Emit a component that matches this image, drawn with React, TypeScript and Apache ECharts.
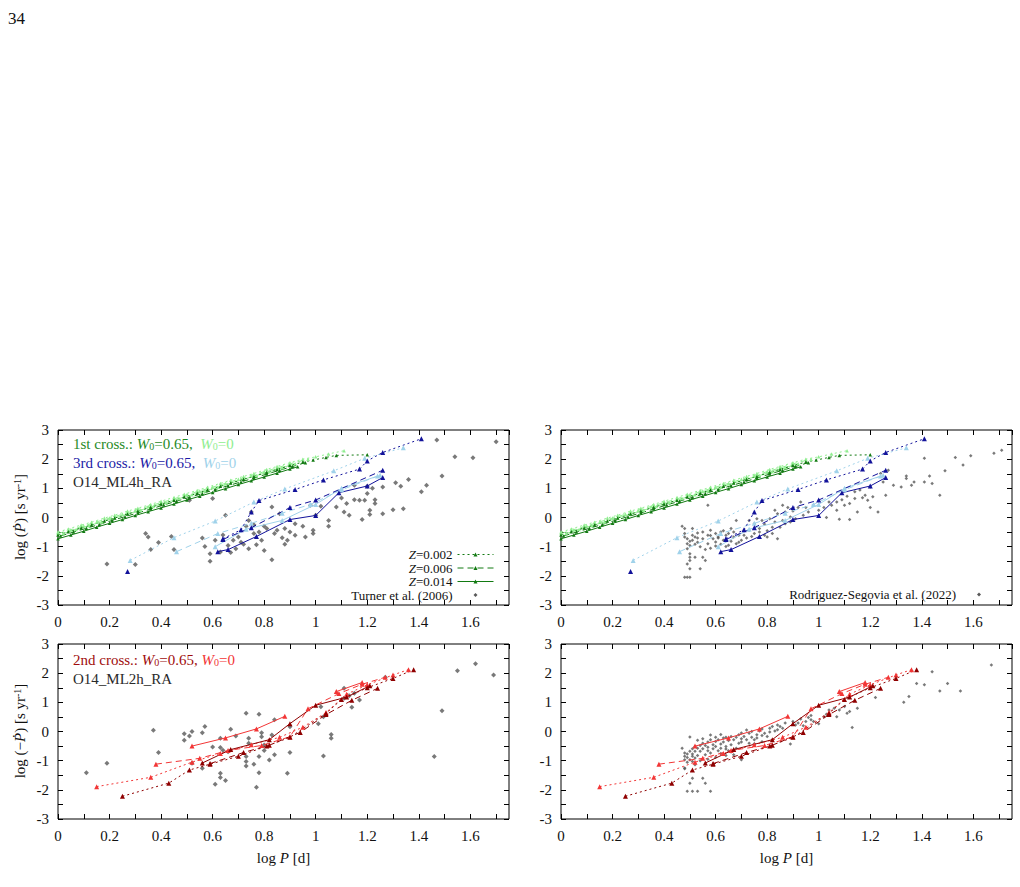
import React, { useEffect, useRef } from "react";
import * as echarts from "echarts";

const SERIF = '"Liberation Serif","Times New Roman","DejaVu Serif",serif';

const DARK_GREEN = "#127a12";
const LIGHT_GREEN = "#90ee90";
const DARK_BLUE = "#12129a";
const LIGHT_BLUE = "#a0d2ea";
const DARK_RED = "#8f0000";
const RED = "#f23636";
const GREY = "#585858";

const DOTTED = [2, 3];
const DASHED = [6, 4];

// ---- 1st crossing, W0 = 0.65 ----
const G065_Z002 = [[0,-0.6],[0.04,-0.49],[0.09,-0.36],[0.13,-0.26],[0.18,-0.12],[0.22,-0.02],[0.27,0.12],[0.31,0.22],[0.36,0.35],[0.4,0.46],[0.45,0.59],[0.49,0.7],[0.54,0.83],[0.58,0.94],[0.63,1.07],[0.67,1.18],[0.72,1.31],[0.76,1.41],[0.81,1.55],[0.85,1.65],[0.9,1.78],[0.95,1.9],[0.99,1.97],[1.04,2.06],[1.08,2.13],[1.2,2.15]];
const G065_Z006 = [[0.01,-0.63],[0.06,-0.5],[0.11,-0.37],[0.16,-0.24],[0.21,-0.1],[0.26,0.03],[0.31,0.16],[0.36,0.29],[0.41,0.43],[0.46,0.56],[0.51,0.69],[0.56,0.82],[0.61,0.96],[0.66,1.09],[0.71,1.22],[0.76,1.35],[0.81,1.49],[0.86,1.62],[0.91,1.75],[0.96,1.88]];
const G065_Z014 = [[0,-0.73],[0.05,-0.6],[0.1,-0.47],[0.15,-0.33],[0.2,-0.2],[0.25,-0.07],[0.3,0.07],[0.35,0.2],[0.4,0.33],[0.45,0.46],[0.5,0.6],[0.55,0.73],[0.6,0.86],[0.65,0.99],[0.7,1.13],[0.75,1.26],[0.8,1.39],[0.85,1.52],[0.9,1.66],[0.93,1.74]];
// ---- 1st crossing, W0 = 0 ----
const G0_Z002 = [[0,-0.5],[0.04,-0.39],[0.09,-0.26],[0.13,-0.16],[0.18,-0.02],[0.22,0.08],[0.27,0.22],[0.31,0.32],[0.36,0.45],[0.4,0.56],[0.45,0.69],[0.49,0.8],[0.54,0.93],[0.58,1.04],[0.63,1.17],[0.67,1.28],[0.72,1.41],[0.76,1.51],[0.81,1.65],[0.85,1.75],[0.9,1.88],[0.95,2.0],[1.0,2.08],[1.05,2.18],[1.11,2.29]];
const G0_Z006 = [[0,-0.55],[0.05,-0.42],[0.1,-0.29],[0.15,-0.15],[0.2,-0.02],[0.25,0.11],[0.3,0.25],[0.35,0.38],[0.4,0.51],[0.45,0.64],[0.5,0.78],[0.55,0.91],[0.6,1.04],[0.65,1.17],[0.7,1.31],[0.75,1.44],[0.8,1.57],[0.85,1.7],[0.9,1.84],[0.97,2.0]];
const G0_Z014 = [[0.02,-0.55],[0.07,-0.41],[0.12,-0.28],[0.17,-0.15],[0.22,-0.02],[0.27,0.12],[0.32,0.25],[0.37,0.38],[0.42,0.51],[0.47,0.65],[0.52,0.78],[0.57,0.91],[0.62,1.04],[0.67,1.18],[0.72,1.31],[0.77,1.44],[0.82,1.57],[0.87,1.71],[0.92,1.84]];

// ---- 3rd crossing, W0 = 0.65 ----
const B065_Z002_A = [[0.27,-1.85]];
const B065_Z002 = [[0.64,-0.73],[0.71,-0.42],[0.75,0.19],[0.78,0.58],[0.92,0.96],[1.03,1.29],[1.17,1.66],[1.2,1.94],[1.26,2.23],[1.41,2.7]];
const B065_Z006 = [[0.64,-0.75],[0.75,-0.35],[0.9,0.34],[1.0,0.6],[1.26,1.62]];
const B065_Z014 = [[0.62,-1.17],[0.66,-1.1],[0.77,-0.65],[0.9,-0.07],[1.0,0.07],[1.09,0.85],[1.2,1.08],[1.26,1.37]];
// ---- 3rd crossing, W0 = 0 ----
const B0_Z002 = [[0.28,-1.47],[0.45,-0.69],[0.61,-0.12],[0.76,0.53],[0.88,0.98],[1.07,1.6],[1.19,2.03],[1.34,2.39]];
const B0_Z006 = [[0.46,-1.17],[0.62,-0.55],[0.75,-0.2],[0.87,0.15],[0.98,0.45],[1.1,0.95],[1.25,1.45]];
const B0_Z014 = [[0.61,-1.0],[0.73,-0.4],[0.87,-0.1],[1.0,0.45],[1.1,1.0],[1.24,1.42]];

// ---- 2nd crossing, W0 = 0.65 ----
const R065_Z002 = [[0.25,-2.22],[0.43,-1.77],[0.51,-1.32],[0.59,-1.12],[0.7,-0.85],[0.81,-0.5],[0.9,-0.2],[1.04,0.62],[1.1,1.1],[1.2,1.5],[1.3,1.82],[1.38,2.12]];
const R065_Z006 = [[0.59,-1.1],[0.72,-0.72],[0.82,-0.47],[0.94,-0.03],[1.04,0.58],[1.14,1.07],[1.24,1.48]];
const R065_Z014 = [[0.56,-1.08],[0.67,-0.62],[0.82,-0.28],[0.9,0.27],[1.0,0.9],[1.12,1.18],[1.21,1.57]];
// ---- 2nd crossing, W0 = 0 ----
const R0_Z002 = [[0.15,-1.89],[0.36,-1.57],[0.52,-1.05],[0.63,-0.75],[0.75,-0.45],[0.86,-0.2],[0.95,0.15],[1.04,0.65],[1.12,1.28],[1.2,1.6],[1.3,1.94],[1.36,2.12]];
const R0_Z006 = [[0.38,-1.12],[0.55,-0.92],[0.66,-0.65],[0.79,-0.48],[0.9,-0.18],[0.97,0.78],[1.09,1.3],[1.18,1.62],[1.27,1.86]];
const R0_Z014_A = [[0.52,-0.5],[0.65,-0.22],[0.77,0.09],[0.88,0.52]];
const R0_Z014_B = [[1.08,1.37],[1.18,1.68]];

// ---- observed period changes ----
const TURNER_POS = [[0.19,-1.59],[0.3,-1.61],[0.34,-0.55],[0.35,-0.67],[0.36,-1.1],[0.39,-0.86],[0.44,-0.65],[0.45,-1.1],[0.51,0.59],[0.56,-0.7],[0.57,-0.99],[0.59,-1.24],[0.59,-1.5],[0.6,0.65],[0.61,-0.78],[0.63,-1.18],[0.64,-0.6],[0.65,0.08],[0.66,-0.96],[0.67,-1.2],[0.68,-0.78],[0.69,-1.07],[0.7,-0.67],[0.71,-0.85],[0.72,-0.92],[0.73,-0.3],[0.74,-1.07],[0.74,-0.1],[0.75,0.19],[0.76,-0.55],[0.76,-0.25],[0.77,-0.93],[0.78,-0.5],[0.79,-0.78],[0.8,-1.13],[0.8,-0.3],[0.81,-0.38],[0.83,0.36],[0.83,-1.45],[0.84,-0.55],[0.85,-0.44],[0.86,0.13],[0.87,-0.69],[0.88,-0.38],[0.88,-0.92],[0.89,-0.78],[0.9,-0.5],[0.92,-0.61],[0.92,-0.21],[0.95,-0.3],[0.96,-0.67],[0.98,0.42],[0.99,-0.44],[0.99,-0.55],[1.0,0.08],[1.02,0.39],[1.05,-0.1],[1.05,-0.3],[1.08,0.36],[1.1,0.67],[1.11,0.19],[1.12,0.48],[1.13,0.08],[1.15,1.11],[1.15,0.61],[1.17,0.59],[1.18,-0.07],[1.19,0.59],[1.2,0.82],[1.2,1.07],[1.21,0.25],[1.21,0.1],[1.22,1.0],[1.23,0.61],[1.23,0.48],[1.26,0.13],[1.26,1.05],[1.3,0.27],[1.31,1.19],[1.33,1.07],[1.34,0.3],[1.36,1.3],[1.41,0.88],[1.43,1.11],[1.47,2.66],[1.49,1.42],[1.54,2.08],[1.61,2.05],[1.7,2.6]];
const TURNER_NEG = [[0.11,-1.41],[0.19,-1.09],[0.37,0.04],[0.39,-0.72],[0.49,-0.08],[0.49,-0.3],[0.51,-0.15],[0.52,0.0],[0.52,-1.09],[0.56,-0.04],[0.56,-1.26],[0.57,0.17],[0.6,-0.53],[0.61,-1.81],[0.63,-0.23],[0.63,-0.55],[0.63,-1.43],[0.63,-1.58],[0.64,-0.64],[0.65,-1.68],[0.66,-0.69],[0.67,0.08],[0.69,-0.15],[0.73,-1.18],[0.73,0.63],[0.73,-0.86],[0.73,-1.03],[0.74,-0.23],[0.74,-0.4],[0.76,-1.12],[0.77,-1.91],[0.78,-0.86],[0.78,-1.41],[0.78,0.59],[0.79,-0.04],[0.79,-0.18],[0.8,-0.46],[0.8,-0.65],[0.82,-0.98],[0.83,-0.12],[0.84,-0.8],[0.84,0.4],[0.89,-1.43],[0.9,0.16],[0.9,-0.72],[1.01,0.27],[1.02,0.85],[1.03,0.51],[1.03,-0.84],[1.06,-0.1],[1.06,-0.23],[1.11,1.48],[1.11,1.14],[1.13,1.23],[1.14,0.83],[1.15,1.31],[1.17,1.08],[1.27,1.86],[1.46,-0.86],[1.49,0.71],[1.55,2.08],[1.62,2.32],[1.69,1.94]];
const RS_POS = [[0.47,-0.3],[0.48,-0.38],[0.48,-0.55],[0.48,-0.67],[0.49,-0.73],[0.5,-0.81],[0.49,-0.9],[0.5,-0.96],[0.49,-1.07],[0.51,-0.78],[0.51,-0.61],[0.5,-1.24],[0.5,-1.36],[0.5,-1.47],[0.49,-1.59],[0.5,-1.76],[0.48,-2.05],[0.49,-2.05],[0.5,-2.05],[0.54,-1.76],[0.52,-1.36],[0.55,-1.36],[0.56,-1.47],[0.57,0.42],[0.52,-0.67],[0.51,-0.38],[0.53,-0.53],[0.55,-0.73],[0.55,-0.5],[0.57,-0.61],[0.57,-0.9],[0.58,-0.44],[0.59,-0.73],[0.6,-0.55],[0.6,-0.84],[0.61,-0.67],[0.62,-0.92],[0.62,-0.5],[0.63,-0.78],[0.64,-0.61],[0.64,-0.99],[0.65,-0.55],[0.66,-0.81],[0.66,-0.38],[0.67,-0.67],[0.68,-0.9],[0.68,-0.1],[0.69,-0.61],[0.7,-0.78],[0.71,-0.44],[0.71,-0.61],[0.73,-0.1],[0.73,-0.44],[0.75,-0.21],[0.75,-0.55],[0.76,-0.04],[0.77,-0.38],[0.78,-0.1],[0.79,-0.61],[0.79,-0.23],[0.8,-0.67],[0.81,-0.04],[0.82,-0.33],[0.83,0.25],[0.83,-0.15],[0.84,-0.73],[0.84,0.13],[0.85,-0.33],[0.86,0.42],[0.86,-0.1],[0.87,0.19],[0.87,-0.21],[0.88,0.34],[0.89,0.02],[0.89,-0.15],[0.9,0.22],[0.91,-0.04],[0.92,0.34],[0.93,0.53],[0.94,0.08],[0.95,0.34],[0.96,0.19],[0.98,0.42],[1.0,0.25],[1.02,0.34],[1.03,0.0],[1.04,0.53],[1.05,0.42],[1.07,0.25],[1.07,0.53],[1.08,-0.06],[1.09,0.61],[1.1,0.42],[1.11,0.73],[1.12,0.48],[1.12,-0.07],[1.14,0.88],[1.14,0.65],[1.15,0.19],[1.16,0.94],[1.17,0.68],[1.18,0.76],[1.19,0.59],[1.2,0.34],[1.2,1.05],[1.21,0.71],[1.23,0.19],[1.24,1.51],[1.25,1.22],[1.26,0.76],[1.27,1.62],[1.29,1.11],[1.32,1.05],[1.34,1.34],[1.34,1.42],[1.36,1.11],[1.37,1.22],[1.41,2.03],[1.41,1.22],[1.43,1.42],[1.44,1.17],[1.47,0.76],[1.49,1.6],[1.53,2.06],[1.56,1.8],[1.59,2.12],[1.68,2.2],[1.71,2.31],[0.53,-0.85],[0.54,-1.0],[0.56,-1.1],[0.58,-1.05],[0.6,-0.98],[0.63,-0.45],[0.65,-0.95],[0.67,-0.5],[0.69,-0.85],[0.72,-0.7],[0.74,-0.65],[0.77,-0.5],[0.8,-0.45],[0.82,-0.55],[0.58,-0.62],[0.61,-0.7],[0.52,-0.92],[0.53,-0.7]];
const RS_NEG = [[0.47,-0.57],[0.48,-0.74],[0.48,-0.85],[0.48,-0.97],[0.49,-1.05],[0.48,-1.25],[0.49,-0.89],[0.49,-0.77],[0.5,-0.19],[0.5,-0.97],[0.5,-0.68],[0.51,-0.85],[0.51,-0.59],[0.51,-1.03],[0.51,-0.77],[0.52,-0.51],[0.52,-0.91],[0.52,-0.68],[0.53,-0.57],[0.53,-0.82],[0.54,-0.48],[0.54,-0.68],[0.55,-0.4],[0.55,-0.59],[0.56,-0.8],[0.56,-0.48],[0.57,-0.66],[0.57,-0.36],[0.57,-0.54],[0.58,-0.28],[0.58,-0.74],[0.59,-0.45],[0.59,-0.59],[0.6,-0.34],[0.6,-0.51],[0.61,-0.66],[0.61,-0.28],[0.62,-0.43],[0.62,-0.57],[0.63,-0.22],[0.63,-0.36],[0.64,-0.51],[0.64,-0.2],[0.65,-0.66],[0.65,-0.31],[0.66,-0.45],[0.66,-0.17],[0.67,-0.28],[0.68,-0.57],[0.68,-0.2],[0.69,-0.4],[0.69,-0.11],[0.7,-0.25],[0.7,-0.97],[0.7,-0.36],[0.71,-0.17],[0.72,-0.28],[0.73,-0.06],[0.73,-0.4],[0.74,-0.2],[0.74,0.0],[0.75,-0.28],[0.76,-0.11],[0.76,-0.22],[0.77,0.02],[0.78,-0.14],[0.78,0.09],[0.79,-0.06],[0.8,-0.17],[0.81,0.11],[0.81,-0.02],[0.82,0.17],[0.83,0.02],[0.84,0.22],[0.84,0.06],[0.85,0.17],[0.86,0.11],[0.87,0.29],[0.89,-0.43],[0.9,0.34],[0.91,0.22],[0.92,0.29],[0.93,0.43],[0.94,0.2],[0.95,0.34],[0.96,0.48],[0.97,0.4],[0.97,0.55],[0.98,0.34],[1.0,0.27],[1.02,0.51],[1.03,0.59],[1.04,0.74],[1.06,0.8],[1.07,0.51],[1.08,0.74],[1.1,0.86],[1.11,0.63],[1.12,0.69],[1.13,0.14],[1.15,0.8],[1.22,1.17],[1.33,1.0],[1.35,1.2],[1.38,1.65],[1.41,1.6],[1.44,2.05],[1.47,1.39],[1.5,1.65],[1.55,1.39],[1.67,2.28],[0.49,-2.05],[0.51,-2.05],[0.53,-2.05],[0.58,-2.05],[0.5,-1.77],[0.51,-1.6],[0.55,-1.6],[0.56,-1.77],[0.48,-1.28],[0.52,-1.14],[0.67,-0.8],[0.64,-0.82],[0.53,-0.3],[0.55,-0.25],[0.58,-0.12],[0.6,-0.2],[0.62,-0.1],[0.64,-0.6],[0.66,-0.7],[0.7,-0.05],[0.72,0.05],[0.75,-0.42],[0.78,-0.35],[0.57,-0.95],[0.6,-0.88],[0.54,-1.0],[0.62,-0.75]];

const LEGEND_Z = ["Z=0.002", "Z=0.006", "Z=0.014"];
const TURNER_NAME = "Turner et al. (2006)";
const RS_NAME = "Rodriguez-Segovia et al. (2022)";

const axisFont = { fontFamily: SERIF, fontSize: 15, color: "#111" };

function xLabel(v: number) {
  const t = Math.round(v * 10);
  if (Math.abs(v * 10 - t) > 1e-6 || t % 2 !== 0) return "";
  return String(t / 10);
}
function yLabel(v: number) {
  const t = Math.round(v * 2);
  if (Math.abs(v * 2 - t) > 1e-6 || t % 2 !== 0) return "";
  return String(t / 2);
}

const GRIDS = [
  { left: 58, top: 430 },
  { left: 561, top: 430 },
  { left: 58, top: 644 },
  { left: 561, top: 644 },
];

function buildOption() {
  const grid = GRIDS.map((g) => ({
    left: g.left, top: g.top, width: 451, height: 175,
    show: true, borderColor: "#000", borderWidth: 1, backgroundColor: "transparent",
  }));
  const tick = { show: true, inside: true, length: 5, lineStyle: { color: "#000", width: 1 } };
  const noLine = { show: false, onZero: false };
  const xAxis: any[] = [];
  const yAxis: any[] = [];
  GRIDS.forEach((_, g) => {
    const isBottom = g >= 2;
    xAxis.push({
      gridIndex: g, type: "value", min: 0, max: 1.75, interval: 0.1, position: "bottom",
      axisLine: noLine, axisTick: tick, splitLine: { show: false },
      axisLabel: { ...axisFont, margin: 9, formatter: xLabel, showMaxLabel: false },
      name: isBottom ? "{n|log }{i|P}{n| [d]}" : "",
      nameLocation: "middle", nameGap: 31,
      nameTextStyle: {
        rich: {
          n: { fontFamily: SERIF, fontSize: 15, color: "#111" },
          i: { fontFamily: SERIF, fontSize: 15, fontStyle: "italic", color: "#111" },
        },
      },
    });
    xAxis.push({
      gridIndex: g, type: "value", min: 0, max: 1.75, interval: 0.1, position: "top",
      axisLine: noLine, axisTick: tick, splitLine: { show: false }, axisLabel: { show: false },
    });
    yAxis.push({
      gridIndex: g, type: "value", min: -3, max: 3, interval: 0.5, position: "left",
      axisLine: noLine, axisTick: tick, splitLine: { show: false },
      axisLabel: { ...axisFont, margin: 9, formatter: yLabel },
    });
    yAxis.push({
      gridIndex: g, type: "value", min: -3, max: 3, interval: 0.5, position: "right",
      axisLine: noLine, axisTick: tick, splitLine: { show: false }, axisLabel: { show: false },
    });
  });

  const track = (name: string, data: number[][], color: string, dash: any, g: number, size = 5) => ({
    name, type: "line", data, xAxisIndex: 2 * g, yAxisIndex: 2 * g,
    symbol: "triangle", symbolSize: size, showSymbol: true,
    lineStyle: { color, width: 1, type: dash }, itemStyle: { color },
    silent: true, z: 3,
  });
  const points = (name: string, data: number[][], size: number, g: number) => ({
    name, type: "scatter", data, xAxisIndex: 2 * g, yAxisIndex: 2 * g,
    symbol: "diamond", symbolSize: size, itemStyle: { color: GREY }, silent: true, z: 2,
  });

  const series: any[] = [];
  // observations
  series.push(points("turner-pos", TURNER_POS, 5, 0));
  series.push(points("rs-pos", RS_POS, 3.5, 1));
  series.push(points("turner-neg", TURNER_NEG, 5, 2));
  series.push(points("rs-neg", RS_NEG, 3.5, 3));

  for (const g of [0, 1]) {
    series.push(track("g0_z002", G0_Z002, LIGHT_GREEN, DOTTED, g, 3.5));
    series.push(track("g0_z006", G0_Z006, LIGHT_GREEN, DASHED, g, 3.5));
    series.push(track("g0_z014", G0_Z014, LIGHT_GREEN, "solid", g, 3.5));
    series.push(track("g065_z002", G065_Z002, DARK_GREEN, DOTTED, g, 3.5));
    series.push(track("g065_z006", G065_Z006, DARK_GREEN, DASHED, g, 3.5));
    series.push(track("g065_z014", G065_Z014, DARK_GREEN, "solid", g, 3.5));
    series.push(track("b0_z002", B0_Z002, LIGHT_BLUE, DOTTED, g));
    series.push(track("b0_z006", B0_Z006, LIGHT_BLUE, DASHED, g));
    series.push(track("b0_z014", B0_Z014, LIGHT_BLUE, "solid", g));
    series.push(track("b065_z002a", B065_Z002_A, DARK_BLUE, DOTTED, g));
    series.push(track("b065_z002", B065_Z002, DARK_BLUE, DOTTED, g));
    series.push(track("b065_z006", B065_Z006, DARK_BLUE, DASHED, g));
    series.push(track("b065_z014", B065_Z014, DARK_BLUE, "solid", g));
  }
  for (const g of [2, 3]) {
    series.push(track("r0_z002", R0_Z002, RED, DOTTED, g));
    series.push(track("r0_z006", R0_Z006, RED, DASHED, g));
    series.push(track("r0_z014a", R0_Z014_A, RED, "solid", g));
    series.push(track("r0_z014b", R0_Z014_B, RED, "solid", g));
    series.push(track("r065_z002", R065_Z002, DARK_RED, DOTTED, g));
    series.push(track("r065_z006", R065_Z006, DARK_RED, DASHED, g));
    series.push(track("r065_z014", R065_Z014, DARK_RED, "solid", g));
  }
  // legend keys (no data of their own)
  series.push(track(LEGEND_Z[0], [], DARK_GREEN, DOTTED, 0, 4));
  series.push(track(LEGEND_Z[1], [], DARK_GREEN, DASHED, 0, 4));
  series.push(track(LEGEND_Z[2], [], DARK_GREEN, "solid", 0, 4));
  for (const nm of [TURNER_NAME, RS_NAME]) {
    series.push({
      name: nm, type: "line", data: [], xAxisIndex: 0, yAxisIndex: 0,
      symbol: "diamond", symbolSize: 4, itemStyle: { color: GREY },
      lineStyle: { width: 0, opacity: 0 }, silent: true,
    });
  }

  const legendText = {
    fontFamily: SERIF, fontSize: 13, color: "#111",
    rich: {
      i: { fontFamily: SERIF, fontSize: 13, fontStyle: "italic", color: "#111" },
      n: { fontFamily: SERIF, fontSize: 13, color: "#111" },
    },
  };
  const legendFmt = (name: string) =>
    name.startsWith("Z=") ? "{i|Z}{n|" + name.slice(1) + "}" : "{n|" + name + "}";
  const obsItem = (nm: string) => ({ name: nm, lineStyle: { opacity: 0, width: 0 } });

  const legendBase = {
    orient: "vertical", align: "right",
    itemWidth: 36, itemHeight: 5, itemGap: 0.5, padding: 0,
    lineStyle: { width: 1 },
    textStyle: legendText, formatter: legendFmt, selectedMode: false,
  };
  const legend = [
    { ...legendBase, data: [...LEGEND_Z, obsItem(TURNER_NAME)], right: 1020 - 494, top: 548 },
    { ...legendBase, data: [obsItem(RS_NAME)], right: 1020 - 997, top: 588 },
  ];

  const sty = (color: string, size = 15, extra: any = {}) => ({ fontFamily: SERIF, fontSize: size, fill: color, color, ...extra });
  const sub = { verticalAlign: "bottom" };
  const crossRich = {
    dg: sty("#1f8a1f"), dgi: sty("#1f8a1f", 15, { fontStyle: "italic" }), dgs: sty("#1f8a1f", 10, sub),
    lg: sty(LIGHT_GREEN), lgi: sty(LIGHT_GREEN, 15, { fontStyle: "italic" }), lgs: sty(LIGHT_GREEN, 10, sub),
    db: sty("#1b1ba6"), dbi: sty("#1b1ba6", 15, { fontStyle: "italic" }), dbs: sty("#1b1ba6", 10, sub),
    lb: sty(LIGHT_BLUE), lbi: sty(LIGHT_BLUE, 15, { fontStyle: "italic" }), lbs: sty(LIGHT_BLUE, 10, sub),
    dr: sty("#a00c0c"), dri: sty("#a00c0c", 15, { fontStyle: "italic" }), drs: sty("#a00c0c", 10, sub),
    rr: sty(RED), rri: sty(RED, 15, { fontStyle: "italic" }), rrs: sty(RED, 10, sub),
    k: sty("#2a2a2a"),
  };
  const ylabRich = {
    n: sty("#111"), i: sty("#111", 15, { fontStyle: "italic" }), s: sty("#111", 10, { verticalAlign: "top" }),
  };
  const txt = (x: number, y: number, text: string, rich: any) => ({
    type: "text", x, y, silent: true,
    style: { text, rich, align: "left", verticalAlign: "middle" },
  });

  const graphic = [
    { type: "text", x: 8, y: 18, silent: true, style: { text: "34", font: "17px " + SERIF, fill: "#111", verticalAlign: "middle" } },
    txt(73, 444, "{dg|1st cross.: }{dgi|W}{dgs|0}{dg|=0.65,  }{lgi|W}{lgs|0}{lg|=0}", crossRich),
    txt(73, 463, "{db|3rd cross.: }{dbi|W}{dbs|0}{db|=0.65,  }{lbi|W}{lbs|0}{lb|=0}", crossRich),
    txt(73, 482, "{k|O14_ML4h_RA}", crossRich),
    txt(73, 660, "{dr|2nd cross.: }{dri|W}{drs|0}{dr|=0.65, }{rri|W}{rrs|0}{rr|=0}", crossRich),
    txt(73, 679, "{k|O14_ML2h_RA}", crossRich),
    {
      type: "text", x: 20, y: 517, rotation: Math.PI / 2, silent: true,
      style: { text: "{n|log (}{i|Ṗ}{n|) [s yr}{s|-1}{n|]}", rich: ylabRich, align: "center", verticalAlign: "middle" },
    },
    {
      type: "text", x: 20, y: 731, rotation: Math.PI / 2, silent: true,
      style: { text: "{n|log (−}{i|Ṗ}{n|) [s yr}{s|-1}{n|]}", rich: ylabRich, align: "center", verticalAlign: "middle" },
    },
  ];

  return {
    animation: false,
    backgroundColor: "#fff",
    grid, xAxis, yAxis, series, legend, graphic,
  };
}

export default function App() {
  const ref = useRef<HTMLDivElement>(null);
  useEffect(() => {
    const chart = echarts.init(ref.current!, undefined, { renderer: "svg" });
    chart.setOption(buildOption() as any);
    return () => chart.dispose();
  }, []);
  return (
    <div
      ref={ref}
      style={{ position: "absolute", left: 0, top: 0, width: 1020, height: 887, background: "#fff" }}
    />
  );
}
